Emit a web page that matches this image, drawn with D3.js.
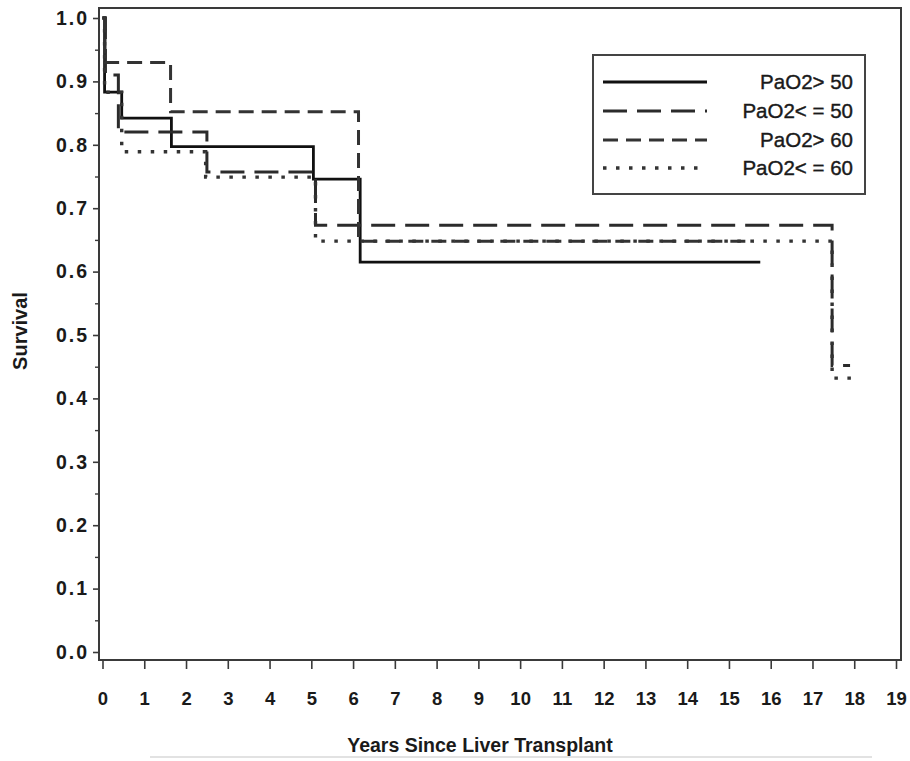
<!DOCTYPE html>
<html>
<head>
<meta charset="utf-8">
<script src="https://cdn.jsdelivr.net/npm/d3@7"></script>
<style>
  html, body { margin: 0; padding: 0; background: #fff; }
  svg text { font-family: "Liberation Sans", Arial, Helvetica, sans-serif; fill: #1a1a1a; }
</style>
</head>
<body>
<svg id="chart" width="910" height="761"></svg>
<script>
// Kaplan-Meier step data: event times (years) and survival after each step.
const seriesNames = ["PaO2> 50", "PaO2< = 50", "PaO2> 60", "PaO2< = 60"];

const gt50Times = [0, 0.05, 0.46, 1.65, 5.05, 6.17, 15.75];
const gt50Surv  = [1.0, 0.883, 0.842, 0.797, 0.746, 0.615, 0.615];

const le50Times = [0, 0.07, 0.38, 2.5, 5.1, 17.47, 17.9];
const le50Surv  = [1.0, 0.91, 0.82, 0.757, 0.673, 0.452, 0.452];

const gt60Times = [0, 0.06, 1.63, 6.13, 15.6];
const gt60Surv  = [1.0, 0.93, 0.852, 0.648, 0.648];

const le60Times = [0, 0.05, 0.46, 2.47, 5.1, 17.47, 18.1];
const le60Surv  = [1.0, 0.883, 0.789, 0.749, 0.648, 0.432, 0.432];

const xTicks = d3.range(0, 20);          // 0 .. 19
const yTicks = d3.range(0, 11).map(d => d / 10); // 0.0 .. 1.0
const yMinorTicks = d3.range(0, 10).map(d => d / 10 + 0.05);

const xTitle = "Years Since Liver Transplant";
const yTitle = "Survival";

// ---- layout ----
const svg = d3.select("#chart");
const frame = { left: 99, right: 901, top: 8, bottom: 660 };

const x = d3.scaleLinear().domain([0, 19]).range([102.5, 896]);
const y = d3.scaleLinear().domain([0, 1]).range([652, 18]);

const series = [
  { name: seriesNames[0], times: gt50Times, surv: gt50Surv, color: "#111", width: 2.8, dash: null },
  { name: seriesNames[1], times: le50Times, surv: le50Surv, color: "#2b2b2b", width: 3, dash: "24,10" },
  { name: seriesNames[2], times: gt60Times, surv: gt60Surv, color: "#333", width: 3, dash: "15,8" },
  { name: seriesNames[3], times: le60Times, surv: le60Surv, color: "#333", width: 3.4, dash: "3.5,9.5" }
];

// plot frame
svg.append("rect")
  .attr("x", frame.left).attr("y", frame.top)
  .attr("width", frame.right - frame.left).attr("height", frame.bottom - frame.top)
  .attr("fill", "none").attr("stroke", "#3a3a3a").attr("stroke-width", 2);

// x axis (ticks hang below the frame)
const xAxis = d3.axisBottom(x).tickValues(xTicks).tickFormat(d3.format("d"))
  .tickSize(9).tickPadding(23);
const gx = svg.append("g").attr("transform", `translate(0,${frame.bottom})`).call(xAxis);
gx.select(".domain").remove();
gx.selectAll(".tick line").attr("stroke", "#3a3a3a").attr("stroke-width", 1.6);
gx.selectAll(".tick text").attr("font-size", 18.5).attr("font-weight", "bold").attr("fill", "#1a1a1a");

// y axis, major ticks with labels
const yAxis = d3.axisLeft(y).tickValues(yTicks).tickFormat(d3.format(".1f"))
  .tickSize(6).tickPadding(4);
const gy = svg.append("g").attr("transform", `translate(${frame.left},0)`).call(yAxis);
gy.select(".domain").remove();
gy.selectAll(".tick line").attr("stroke", "#3a3a3a").attr("stroke-width", 1.6);
gy.selectAll(".tick text").attr("font-size", 19.5).attr("font-weight", "bold")
  .attr("letter-spacing", 2).attr("fill", "#1a1a1a");

// y axis minor ticks
const yMinor = d3.axisLeft(y).tickValues(yMinorTicks).tickFormat("").tickSize(4);
const gym = svg.append("g").attr("transform", `translate(${frame.left},0)`).call(yMinor);
gym.select(".domain").remove();
gym.selectAll(".tick line").attr("stroke", "#3a3a3a").attr("stroke-width", 1.4);

// axis titles
svg.append("text")
  .attr("x", 480).attr("y", 752)
  .attr("text-anchor", "middle").attr("font-size", 19.5).attr("font-weight", "bold")
  .text(xTitle);

svg.append("text")
  .attr("transform", `translate(27,331) rotate(-90)`)
  .attr("text-anchor", "middle").attr("font-size", 20).attr("font-weight", "bold")
  .text(yTitle);

// faint rule under the x title
svg.append("line")
  .attr("x1", 150).attr("x2", 872).attr("y1", 757).attr("y2", 757)
  .attr("stroke", "#d8d8d8").attr("stroke-width", 1.5);

// survival curves
const step = d3.line()
  .x(d => x(d[0]))
  .y(d => y(d[1]))
  .curve(d3.curveStepAfter);

series.forEach(s => {
  const pts = s.times.map((t, i) => [t, s.surv[i]]);
  svg.append("path")
    .datum(pts)
    .attr("d", step)
    .attr("fill", "none")
    .attr("stroke", s.color)
    .attr("stroke-width", s.width)
    .attr("stroke-dasharray", s.dash);
});

// legend
const legend = svg.append("g");
legend.append("rect")
  .attr("x", 593).attr("y", 55).attr("width", 272).attr("height", 139)
  .attr("fill", "#fff").attr("stroke", "#444").attr("stroke-width", 2);

const rowY = [82, 111, 140, 168];
series.forEach((s, i) => {
  legend.append("line")
    .attr("x1", 603).attr("x2", 707)
    .attr("y1", rowY[i]).attr("y2", rowY[i])
    .attr("stroke", s.color).attr("stroke-width", s.width)
    .attr("stroke-dasharray", s.dash);
  legend.append("text")
    .attr("x", 853).attr("y", rowY[i] + 7)
    .attr("text-anchor", "end").attr("font-size", 20.5)
    .attr("stroke", "#1a1a1a").attr("stroke-width", 0.4)
    .text(s.name);
});
</script>
</body>
</html>
